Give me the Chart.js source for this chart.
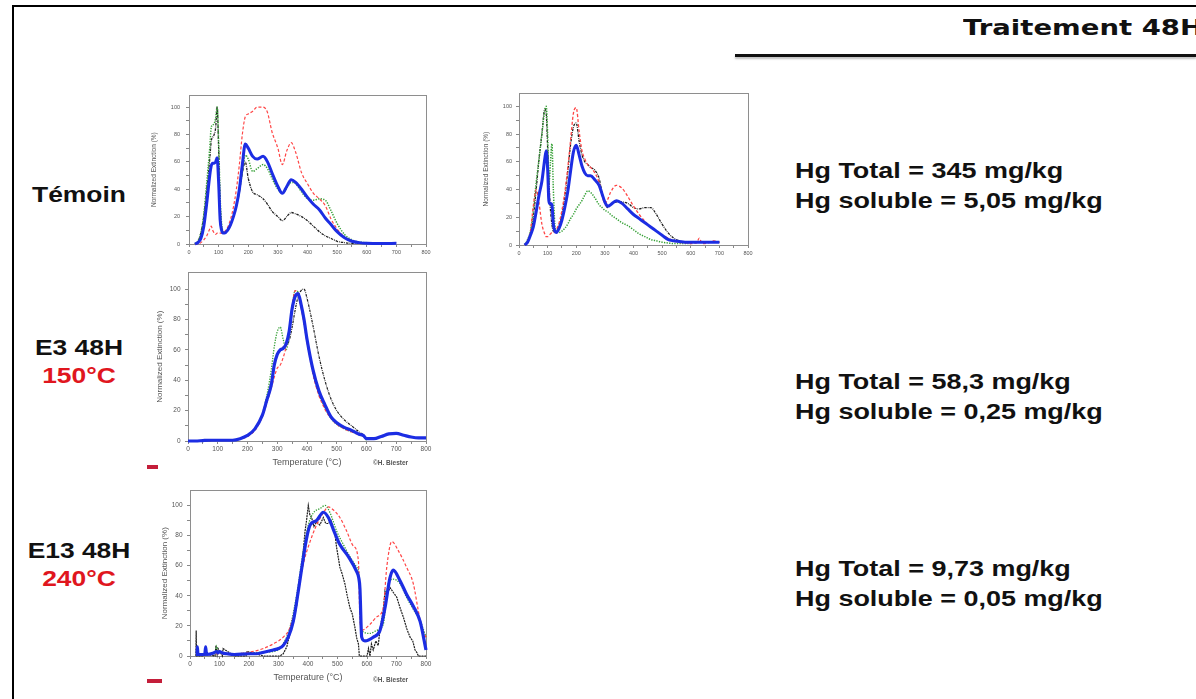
<!DOCTYPE html>
<html>
<head>
<meta charset="utf-8">
<script src="https://cdn.jsdelivr.net/npm/chart.js@4.4.0/dist/chart.umd.min.js"></script>
<style>
  html, body { margin: 0; padding: 0; background: #fff; width: 1196px; height: 699px; overflow: hidden; }
  #slide { position: relative; width: 1196px; height: 699px; overflow: hidden; font-family: 'Liberation Sans', Arial, sans-serif; }
  .abs { position: absolute; }
  canvas { position: absolute; filter: blur(0.4px); }
  .border-top { left: 12px; top: 5px; width: 1184px; height: 2px; background: #000; }
  .border-left { left: 12px; top: 5px; width: 2px; height: 694px; background: #000; }
  .title { left: 963px; top: 16px; font-family: 'DejaVu Sans', Verdana, sans-serif; font-weight: bold;
           font-size: 22px; line-height: 24px; white-space: nowrap; transform: scaleX(1.25); transform-origin: left center; color: #111; }
  .rule { left: 735px; top: 54px; width: 461px; height: 3px; background: #111; box-shadow: 0 2px 2px rgba(0,0,0,0.25); }
  .lbl { left: -1px; width: 160px; text-align: center; font-weight: bold; font-size: 22px; line-height: 28px;
         transform: scaleX(1.2); transform-origin: center; color: #111; }
  .lbl .hot { color: #e0161e; }
  .hg { left: 795px; font-weight: bold; font-size: 22px; line-height: 30px; white-space: nowrap;
        transform: scaleX(1.225); transform-origin: left center; color: #111; }
  .copy { font-size: 6.5px; font-weight: bold; color: #555; white-space: nowrap; }
  .dash { background: #c41e3a; height: 4px; }
</style>
</head>
<body>
<div id="slide">
  <div class="abs border-top"></div>
  <div class="abs border-left"></div>
  <div class="abs title">Traitement 48H</div>
  <div class="abs rule"></div>

  <div class="abs lbl" style="top:181px">Témoin</div>
  <div class="abs lbl" style="top:334px">E3 48H<br><span class="hot">150°C</span></div>
  <div class="abs lbl" style="top:537px">E13 48H<br><span class="hot">240°C</span></div>

  <div class="abs hg" style="top:156px">Hg Total = 345 mg/kg<br>Hg soluble = 5,05 mg/kg</div>
  <div class="abs hg" style="top:367px">Hg Total = 58,3 mg/kg<br>Hg soluble = 0,25 mg/kg</div>
  <div class="abs hg" style="top:554px">Hg Total = 9,73 mg/kg<br>Hg soluble = 0,05 mg/kg</div>

  <canvas id="c1" width="300" height="172" style="left:140px;top:86px"></canvas>
  <canvas id="c2" width="290" height="172" style="left:470px;top:86px"></canvas>
  <canvas id="c3" width="300" height="211" style="left:140px;top:264px"></canvas>
  <canvas id="c4" width="300" height="210" style="left:140px;top:482px"></canvas>

  <div class="abs copy" style="left:373px;top:459px">©H. Biester</div>
  <div class="abs copy" style="left:373px;top:676px">©H. Biester</div>
  <div class="abs dash" style="left:147px;top:465px;width:11px"></div>
  <div class="abs dash" style="left:147px;top:679px;width:15px"></div>
</div>

<script>
// Témoin, first sample (temperature in °C, normalized extinction in %)
const temp1 = [20, 30, 40, 50, 60, 70, 75, 80, 85, 90, 95, 100, 105, 110, 115, 120, 130, 140, 150, 160, 170, 180, 190, 200, 215, 230, 250, 265, 280, 300, 315, 330, 345, 360, 380, 400, 420, 440, 460, 480, 500, 525, 550, 575, 600, 650, 700];
const blue1  = [0, 1, 4, 13, 30, 50, 57, 59, 59, 60, 63, 45, 18, 10, 8, 8, 10, 14, 20, 28, 40, 58, 73, 70, 64, 62, 64, 60, 52, 42, 37, 42, 47, 45, 40, 34, 29, 25, 19, 14, 9, 4.5, 2, 1, 0.5, 0.3, 0.5];
const red1   = [0, 0, 1, 3, 6, 11, 13, 10, 8, 7, 8, 8, 8, 8, 8, 9, 12, 18, 27, 40, 58, 80, 93, 95, 97, 100, 100, 96, 82, 70, 58, 68, 74, 67, 52, 44, 37, 33, 28, 18, 11, 5, 2.5, 1, 0.5, 0.3, 0.5];
const green1 = [0, 2, 8, 22, 45, 70, 85, 87, 88, 92, 100, 75, 35, 15, 9, 8, 10, 14, 20, 28, 38, 52, 65, 62, 53, 55, 58, 55, 48, 40, 37, 41, 45, 44, 38, 33, 32, 33, 32, 24, 15, 7, 3, 1.5, 1, 0.5, 0.5];
const black1 = [0, 2, 8, 20, 40, 62, 75, 78, 80, 85, 100, 70, 30, 12, 8, 8, 10, 14, 20, 28, 38, 52, 60, 48, 38, 36, 33, 29, 24, 20, 17, 20, 23, 22, 20, 17, 13, 9, 6, 4, 2, 1, 0.5, 0.5, 0.5, 0.5, 1];

// Témoin, second sample
const temp2 = [20, 30, 40, 50, 60, 70, 80, 90, 95, 100, 105, 110, 115, 120, 125, 130, 140, 150, 160, 170, 180, 190, 200, 210, 220, 230, 240, 250, 265, 280, 290, 300, 310, 320, 340, 360, 380, 400, 420, 440, 460, 480, 500, 520, 540, 560, 580, 600, 620, 630, 640, 660, 680, 700];
const blue2  = [0, 2, 7, 13, 24, 36, 46, 62, 68, 55, 30, 30, 29, 15, 10, 9, 12, 18, 27, 38, 53, 67, 72, 65, 57, 52, 50, 50, 47, 43, 37, 31, 28, 29, 32, 30, 26, 22, 19, 16, 13, 10, 7, 4, 3, 2.5, 2, 2, 2, 2, 2, 2, 2, 2];
const red2   = [0, 3, 10, 28, 40, 30, 15, 8, 6, 6, 7, 8, 9, 9, 10, 11, 16, 25, 38, 55, 75, 95, 99, 82, 68, 62, 58, 56, 52, 45, 36, 30, 33, 38, 43, 41, 35, 28, 22, 17, 13, 10, 7, 5, 3, 2, 1.5, 1, 1.5, 5, 1, 1.5, 3, 2];
const green2 = [0, 4, 10, 25, 45, 62, 80, 97, 100, 80, 45, 60, 73, 40, 15, 9, 9, 10, 12, 15, 19, 22, 26, 29, 32, 36, 39, 38, 34, 29, 27, 25, 24, 22, 19, 16, 14, 11, 8, 6, 4, 3, 2, 1.5, 1, 1, 1, 1, null, null, null, null, null, null];
const black2 = [0, 3, 9, 20, 40, 62, 80, 98, 95, 70, 45, 25, 15, 10, 10, 10, 14, 22, 35, 52, 72, 85, 88, 75, 65, 60, 58, 56, 54, 48, 38, 30, 27, 29, 31, 31, 30, 27, 26, 27, 27, 22, 15, 9, 5, 3, 2, 2, 2.5, 2, 2, 2.5, 2, 2];

// E3 48H, 150°C
const temp3 = [0, 25, 50, 75, 100, 125, 150, 175, 200, 225, 250, 265, 280, 290, 300, 310, 320, 330, 340, 350, 360, 370, 380, 390, 400, 420, 440, 460, 480, 500, 525, 550, 575, 590, 600, 625, 650, 675, 700, 725, 750, 775, 800];
const blue3  = [0, 0, 0.3, 0.5, 0.5, 0.5, 0.5, 1.5, 3.7, 8, 17, 27, 37, 50, 57, 60, 61, 64, 72, 87, 95, 97, 90, 80, 67, 47, 33, 24, 16, 12, 9, 7, 4.5, 3.5, 1.5, 1.5, 3, 4.7, 5, 3.8, 2.6, 2, 2];
const green3 = [0, 0, 0.3, 0.5, 0.5, 0.5, 0.5, 1.5, 3.5, 8, 18, 30, 47, 62, 72, 75, 67, 60, 70, 88, 99, 98, 90, 79, 67, 45, 31, 22, 15, 11, 8, 6, 4, 3, 0.5, null, null, null, null, null, null, null, null];
const red3   = [0, 0, 0, 0.3, 0.5, 0.5, 0.5, 1.2, 3, 7, 16, 25, 35, 42, 48, 50, 55, 62, 72, 88, 99, 97, 88, 77, 65, 44, 30, 21, 15, 11, 8, 6, 4, 3, 1, null, null, null, null, null, null, null, null];
const black3 = [0, 0, 0, 0.3, 0.5, 0.5, 0.5, 1.5, 3.5, 8, 17, 27, 40, 50, 57, 60, 62, 63, 66, 75, 86, 95, 99, 100, 94, 76, 56, 40, 28, 20, 14, 10, 6, 4, 1, null, null, null, null, null, null, null, null];

// E13 48H, 240°C
const blue4T  = [20, 24, 25, 27, 40, 50, 53, 56, 80, 90, 95, 100, 110, 125, 150, 200, 226, 250, 282, 300, 316, 333, 350, 367, 384, 395, 407, 429, 452, 469, 486, 508, 537, 565, 572, 576, 582, 593, 621, 644, 661, 678, 689, 712, 734, 757, 780, 800];
const blue4   = [1, 1, 6, 1, 1, 1, 6, 1, 2, 3, 2, 3, 2, 1.5, 1, 1.5, 1.5, 2.5, 4, 5, 7, 12.5, 23, 43, 65, 78, 87, 90, 95.5, 92, 84, 74, 66, 56, 52, 45, 12.5, 10, 12.5, 17, 32, 52, 57, 50, 41, 33, 23, 4];
const red4T   = [20, 50, 100, 150, 203, 249, 282, 316, 339, 362, 384, 407, 429, 452, 469, 486, 508, 531, 554, 571, 575, 580, 610, 633, 655, 667, 684, 706, 734, 757, 774, 785, 800];
const red4    = [1.5, 1.5, 1.5, 1.5, 2.6, 5, 8, 12.5, 19, 37, 61, 76, 87, 95, 99, 97, 92, 83, 73, 63, 30, 17, 21, 26, 32, 59, 76, 70, 59, 48, 30, 19, 12.5];
const green4T = [20, 50, 85, 90, 95, 150, 200, 250, 300, 316, 339, 362, 384, 401, 418, 441, 458, 475, 497, 520, 542, 565, 574, 578, 582, 610, 633, 655, 672, 689, 712, 734, 757, 780, 800];
const green4  = [1, 1.5, 2, 7, 2, 1.5, 2, 2.5, 4, 8, 19, 41, 70, 87, 95, 98, 100, 95, 83, 74, 66, 59, 52, 20, 17, 15, 17, 21, 48, 51, 48, 39, 31, 23.5, 12.5];
const black4T = [20, 21, 22, 40, 60, 85, 88, 92, 95, 110, 112, 150, 190, 192, 250, 305, 316, 328, 339, 350, 362, 370, 379, 385, 390, 395, 401, 406, 412, 420, 429, 440, 452, 460, 469, 478, 486, 492, 497, 503, 508, 515, 525, 533, 542, 550, 559, 565, 571, 574, 590, 600, 605, 610, 615, 621, 630, 638, 645, 655, 661, 667, 678, 690, 701, 712, 723, 735, 746, 755, 763, 770, 774, 800];
const black4  = [0, 17, 0, 0, 1, 0, 7, 1, 5, 0, 5, 0, 0, 3, 0, 0, 1.5, 6, 15, 22, 34, 48, 59, 72, 83, 90, 100, 94, 92, 86, 89, 87, 92, 88, 88, 90, 85, 80, 72, 65, 59, 55, 48, 40, 32, 28, 19, 12, 8, 0, 0, 0, 5, 0, 8, 4, 10, 7, 19, 30, 43, 40, 45.5, 42, 39, 32, 26, 18, 12.5, 10, 4, 2, 0, 0];

const yTicks = [0, 20, 40, 60, 80, 100];
const xTicks = [0, 100, 200, 300, 400, 500, 600, 700, 800];
const yTitle = 'Normalized Extinction (%)';
const xTitle = 'Temperature (°C)';

const BLUE = '#1c2de3', RED = '#ff4646', GREEN = '#35a035', BLACK = '#1e1e1e';

function pairs(xs, ys) { return xs.map((x, i) => ({ x, y: ys[i] })); }

// Grey box around the plotting area
const frame = {
  id: 'frame',
  beforeDatasetsDraw(chart) {
    const { ctx, chartArea: a } = chart;
    ctx.save();
    ctx.strokeStyle = '#8e8e8e';
    ctx.lineWidth = 1;
    ctx.strokeRect(Math.round(a.left) + 0.5, Math.round(a.top) + 0.5, Math.round(a.width), Math.round(a.height));
    ctx.restore();
  }
};

function line(xs, ys, color, width, dash, smooth) {
  return {
    data: pairs(xs, ys), borderColor: color, borderWidth: width, borderDash: dash,
    pointRadius: 0, fill: false, clip: false, spanGaps: false,
    tension: 0, cubicInterpolationMode: smooth ? 'monotone' : 'default'
  };
}

function build(id, g, sets) {
  const tickFont = { family: 'Liberation Sans', size: g.tick };
  new Chart(document.getElementById(id), {
    type: 'line',
    data: { datasets: sets },
    plugins: [frame],
    options: {
      responsive: false, animation: false, events: [],
      layout: { padding: { top: g.pt, right: g.pr, left: 0, bottom: 0 } },
      plugins: { legend: { display: false }, tooltip: { enabled: false } },
      scales: {
        x: {
          type: 'linear', min: 0, max: 800,
          afterFit: (s) => { s.height = g.xh; },
          afterBuildTicks: (s) => { s.ticks = [];
            xTicks.forEach((v, i) => { s.ticks.push({ value: v }); if (i < xTicks.length - 1) s.ticks.push({ value: v + 50 }); }); },
          border: { display: false },
          grid: { drawOnChartArea: false, drawTicks: true, tickLength: 3, color: '#888' },
          ticks: { font: tickFont, color: '#555', padding: g.xpad, autoSkip: false, maxRotation: 0,
                   callback: (v) => (xTicks.includes(v) ? String(v) : '') },
          title: g.xtitle ? { display: true, text: xTitle, color: '#555',
                   font: { family: 'Liberation Sans', size: g.xtitle }, padding: { top: 0, bottom: g.xtpad } } : { display: false }
        },
        y: {
          type: 'linear', min: 0, max: g.ymax,
          afterFit: (s) => { s.width = g.yw; },
          afterBuildTicks: (s) => { s.ticks = [];
            yTicks.forEach((v, i) => { s.ticks.push({ value: v }); if (i < yTicks.length - 1) s.ticks.push({ value: v + 10 }); }); },
          border: { display: false },
          grid: { drawOnChartArea: false, drawTicks: true, tickLength: 3, color: '#888' },
          ticks: { font: tickFont, color: '#555', padding: g.ypad, autoSkip: false,
                   callback: (v) => (yTicks.includes(v) ? String(v) : '') },
          title: { display: true, text: yTitle, color: '#555',
                   font: { family: 'Liberation Sans', size: g.ytitle }, padding: { top: g.ytpad, bottom: 0 } }
        }
      }
    }
  });
}

build('c1', { pt: 6, pr: 14, yw: 49, xh: 14, ymax: 108.6, tick: 5.5, xpad: 2.5, ypad: 6, ytitle: 6.5, ytpad: 10 }, [
  line(temp1, blue1, BLUE, 3, [], true),
  line(temp1, red1, RED, 1.2, [3, 2], true),
  line(temp1, green1, GREEN, 1.5, [1.3, 1.3], true),
  line(temp1, black1, BLACK, 1.3, [2.5, 1, 0.8, 1], true)
]);

build('c2', { pt: 7, pr: 12, yw: 49, xh: 13, ymax: 109.4, tick: 5.5, xpad: 2, ypad: 4, ytitle: 6.5, ytpad: 12 }, [
  line(temp2, blue2, BLUE, 3, [], true),
  line(temp2, red2, RED, 1.3, [3, 2], true),
  line(temp2, green2, GREEN, 1.5, [1.3, 1.3], true),
  line(temp2, black2, BLACK, 1.3, [2.5, 1, 0.8, 1], true)
]);

build('c3', { pt: 6, pr: 14, yw: 48, xh: 34, ymax: 111, tick: 6.5, xpad: 1.5, ypad: 4.5, ytitle: 8, xtitle: 9, xtpad: 6.6, ytpad: 15 }, [
  line(temp3, blue3, BLUE, 3.2, [], true),
  line(temp3, red3, RED, 1.2, [3, 2], true),
  line(temp3, green3, GREEN, 1.3, [1.3, 1.3], true),
  line(temp3, black3, BLACK, 1.2, [2.5, 1, 0.8, 1], true)
]);

build('c4', { pt: 7, pr: 14, yw: 50, xh: 36, ymax: 110, tick: 6.5, xpad: 1.5, ypad: 4.5, ytitle: 8, xtitle: 9, xtpad: 8.6, ytpad: 20 }, [
  line(blue4T, blue4, BLUE, 3.2, [], true),
  line(red4T, red4, RED, 1.2, [3, 2], true),
  line(green4T, green4, GREEN, 1.3, [1.3, 1.3], true),
  line(black4T, black4, BLACK, 1.2, [2, 0.8], false)
]);
</script>
</body>
</html>
